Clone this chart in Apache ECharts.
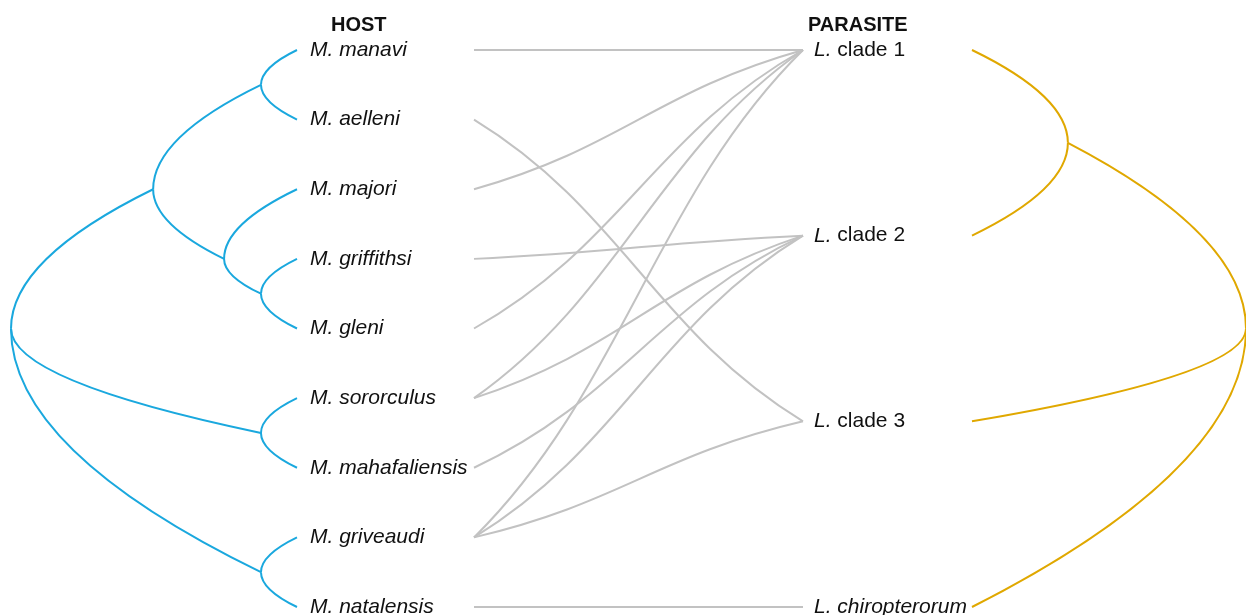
<!DOCTYPE html>
<html style="height: 100%">
<head>
    <meta charset="UTF-8">
    <title>Host / parasite tanglegram</title>
</head>
<body style="height: 100%; margin: 0">
<div id="container" style="width: 1246px; height: 615px"></div>
<script src="https://cdn.jsdelivr.net/npm/echarts/dist/echarts.min.js"></script>
<script>
    // host tree (tips top to bottom), edges are [parent, child]
    var hostLeaves = ['manavi', 'aelleni', 'majori', 'griffithsi', 'gleni',
        'sororculus', 'mahafaliensis', 'griveaudi', 'natalensis'];
    var hostEdges = [
        ['root', 'D'], ['root', 'E'], ['root', 'F'],
        ['D', 'A'], ['D', 'C'],
        ['A', 'manavi'], ['A', 'aelleni'],
        ['C', 'majori'], ['C', 'B'],
        ['B', 'griffithsi'], ['B', 'gleni'],
        ['E', 'sororculus'], ['E', 'mahafaliensis'],
        ['F', 'griveaudi'], ['F', 'natalensis']
    ];
    // relative depth of the inner nodes (root 0, tips 1)
    var hostDepth = {root: 0, D: 0.497, C: 0.745, A: 0.874, B: 0.874, E: 0.874, F: 0.874};

    // parasite tree
    var parasiteLeaves = ['clade 1', 'clade 2', 'clade 3', 'chiropterorum'];
    var parasiteEdges = [
        ['root', 'G'], ['root', 'clade 3'], ['root', 'chiropterorum'],
        ['G', 'clade 1'], ['G', 'clade 2']
    ];
    var parasiteDepth = {root: 0, G: 0.65};

    // host -> parasite associations
    var links = [
        ['manavi', 'clade 1'],
        ['aelleni', 'clade 3'],
        ['majori', 'clade 1'],
        ['griffithsi', 'clade 2'],
        ['gleni', 'clade 1'],
        ['sororculus', 'clade 1'], ['sororculus', 'clade 2'],
        ['mahafaliensis', 'clade 2'],
        ['griveaudi', 'clade 1'], ['griveaudi', 'clade 2'], ['griveaudi', 'clade 3'],
        ['natalensis', 'chiropterorum']
    ];

    var FONT = '"Liberation Sans", Arial, sans-serif';
    var HOST_COLOR = '#1aa8de';
    var PARASITE_COLOR = '#e0a800';
    var LINK_COLOR = '#c2c2c2';

    // y of a node = mean rank of its tips
    function ranks(edges, leaves) {
        var kids = {}, rank = {};
        edges.forEach(function (e) {
            (kids[e[0]] = kids[e[0]] || []).push(e[1]);
        });
        function walk(n) {
            var i = leaves.indexOf(n);
            if (i >= 0) {
                rank[n] = i;
                return [i];
            }
            var all = [];
            kids[n].forEach(function (c) {
                all = all.concat(walk(c));
            });
            rank[n] = all.reduce(function (a, b) { return a + b; }, 0) / all.length;
            return all;
        }
        walk('root');
        return rank;
    }

    function edgeData(edges, leaves, depth) {
        var rank = ranks(edges, leaves);
        var d = function (n) { return n in depth ? depth[n] : 1; };
        return edges.map(function (e) {
            return [d(e[0]), rank[e[0]], d(e[1]), rank[e[1]]];
        });
    }

    // parent -> child, leaves the parent vertically
    function branch(color) {
        return function (params, api) {
            var p = api.coord([api.value(0), api.value(1)]);
            var c = api.coord([api.value(2), api.value(3)]);
            return {
                type: 'bezierCurve',
                shape: {x1: p[0], y1: p[1], x2: c[0], y2: c[1], cpx1: p[0], cpy1: (p[1] + c[1]) / 2},
                style: {stroke: color, lineWidth: 2, fill: null}
            };
        };
    }

    function linkCurve(params, api) {
        var p = api.coord([api.value(0), api.value(1)]);
        var q = api.coord([api.value(2), api.value(3)]);
        var dx = q[0] - p[0], dy = q[1] - p[1];
        return {
            type: 'bezierCurve',
            shape: {
                x1: p[0], y1: p[1], x2: q[0], y2: q[1],
                cpx1: p[0] + 0.45 * dx, cpy1: p[1] + 0.3 * dy,
                cpx2: q[0] - 0.45 * dx, cpy2: q[1] - 0.3 * dy
            },
            style: {stroke: LINK_COLOR, lineWidth: 2, fill: null}
        };
    }

    var rich = {
        i: {fontStyle: 'italic', fontSize: 21, fontFamily: FONT, fill: '#111'},
        n: {fontStyle: 'normal', fontSize: 21, fontFamily: FONT, fill: '#111'}
    };

    function labelRenderer(names, fmt, offset) {
        return function (params, api) {
            var p = api.coord([api.value(0), api.value(1)]);
            return {
                type: 'text',
                x: p[0] + offset,
                y: p[1],
                style: {
                    text: fmt(names[params.dataIndex]),
                    rich: rich,
                    fontSize: 21,
                    fontFamily: FONT,
                    fill: '#111',
                    align: 'left',
                    verticalAlign: 'middle'
                }
            };
        };
    }

    var nH = hostLeaves.length - 1, nP = parasiteLeaves.length - 1;
    var linkData = links.map(function (l) {
        return [0, hostLeaves.indexOf(l[0]) / nH, 1, parasiteLeaves.indexOf(l[1]) / nP];
    });

    var chart = echarts.init(document.getElementById('container'));

    var option = {
        animation: false,
        backgroundColor: '#fff',
        title: [
            {text: 'HOST', left: 331, top: 15, padding: 0,
                textStyle: {fontSize: 20, fontWeight: 'bold', fontFamily: FONT, color: '#111'}},
            {text: 'PARASITE', left: 808, top: 15, padding: 0,
                textStyle: {fontSize: 20, fontWeight: 'bold', fontFamily: FONT, color: '#111'}}
        ],
        grid: [
            {left: 11, top: 50, width: 286, height: 557},
            {left: 474, top: 50, width: 329, height: 557},
            {left: 972, top: 50, width: 278, height: 557}
        ],
        xAxis: [
            {gridIndex: 0, type: 'value', min: 0, max: 1, show: false},
            {gridIndex: 1, type: 'value', min: 0, max: 1, show: false},
            {gridIndex: 2, type: 'value', min: 0, max: 1, inverse: true, show: false}
        ],
        yAxis: [
            {gridIndex: 0, type: 'value', min: 0, max: nH, inverse: true, show: false},
            {gridIndex: 1, type: 'value', min: 0, max: 1, inverse: true, show: false},
            {gridIndex: 2, type: 'value', min: 0, max: nP, inverse: true, show: false}
        ],
        series: [
            {
                type: 'custom', name: 'host tree', xAxisIndex: 0, yAxisIndex: 0,
                encode: {x: [0, 2], y: [1, 3]},
                data: edgeData(hostEdges, hostLeaves, hostDepth),
                renderItem: branch(HOST_COLOR)
            },
            {
                type: 'custom', name: 'parasite tree', xAxisIndex: 2, yAxisIndex: 2,
                encode: {x: [0, 2], y: [1, 3]},
                data: edgeData(parasiteEdges, parasiteLeaves, parasiteDepth),
                renderItem: branch(PARASITE_COLOR)
            },
            {
                type: 'custom', name: 'links', xAxisIndex: 1, yAxisIndex: 1,
                encode: {x: [0, 2], y: [1, 3]},
                data: linkData,
                renderItem: linkCurve
            },
            {
                type: 'custom', name: 'host labels', xAxisIndex: 0, yAxisIndex: 0,
                encode: {x: 0, y: 1},
                data: hostLeaves.map(function (h, i) { return [1, i]; }),
                renderItem: labelRenderer(hostLeaves, function (n) {
                    return '{i|M. ' + n + '}';
                }, 13)
            },
            {
                type: 'custom', name: 'parasite labels', xAxisIndex: 1, yAxisIndex: 1,
                encode: {x: 0, y: 1},
                data: parasiteLeaves.map(function (p, j) { return [1, j / nP]; }),
                renderItem: labelRenderer(parasiteLeaves, function (n) {
                    return n.indexOf('clade') === 0 ? '{i|L.}{n| ' + n + '}' : '{i|L. ' + n + '}';
                }, 11)
            }
        ]
    };

    chart.setOption(option);
</script>
</body>
</html>
